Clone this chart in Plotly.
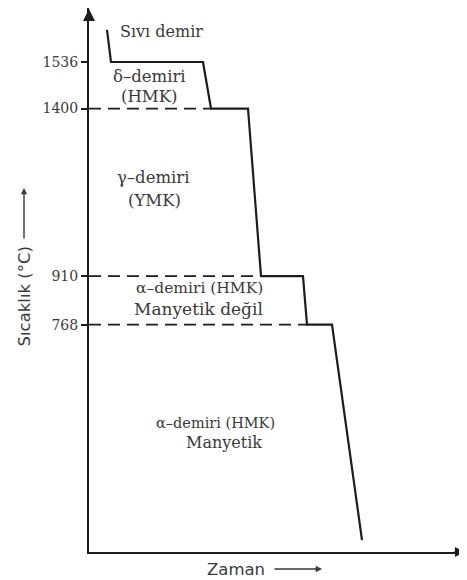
import plotly.graph_objects as go

# ---- data (schematic cooling curve of pure iron) ----
time = [18, 22, 114, 122, 159, 172, 214, 218, 243, 273]
temperature = [1630, 1536, 1536, 1400, 1400, 910, 910, 768, 768, 138]
tick_temps = [1536, 1400, 910, 768]
tick_labels = ["1536", "1400", "910", "768"]
dashed_temps = [1400, 910, 768]
phase_texts = ["Sıvı demir", "δ–demiri", "(HMK)", "γ–demiri", "(YMK)",
               "α–demiri (HMK)", "Manyetik değil", "α–demiri (HMK)", "Manyetik"]

LINE = "#1c1c1c"
TEXT = "#3a3a3a"
SERIF = "DejaVu Serif"
SANS = "DejaVu Sans"

fig = go.Figure()

# dashed transition lines from the axis to the start of each plateau
for T in dashed_temps:
    t_end = time[temperature.index(T)]
    fig.add_trace(go.Scatter(x=[0, t_end], y=[T, T], mode="lines",
                             line=dict(color=LINE, width=1.8, dash="12px,7px"),
                             hoverinfo="skip", showlegend=False))

# cooling curve
fig.add_trace(go.Scatter(x=time, y=temperature, mode="lines",
                         line=dict(color=LINE, width=2.2),
                         showlegend=False))

# phase labels (layout positions)
label_pos = [(72, 1624), (60, 1494), (60, 1436), (64, 1197), (65, 1132),
             (110, 875), (109, 814), (126, 480), (135, 422)]
label_size = [16, 16.5, 16.5, 16.5, 16.5, 15.5, 17, 14.5, 16]
for txt, (lx, ly), sz in zip(phase_texts, label_pos, label_size):
    fig.add_annotation(x=lx, y=ly, text=txt, showarrow=False,
                       font=dict(family=SERIF, size=sz, color=TEXT))

# axis arrowheads
fig.add_annotation(xref="paper", yref="paper", x=0, y=1, ax=0, ay=14,
                   text="", showarrow=True, arrowhead=2, arrowsize=1.2,
                   arrowwidth=2, arrowcolor=LINE)
fig.add_annotation(xref="paper", yref="paper", x=1, y=0, ax=-12, ay=0,
                   text="", showarrow=True, arrowhead=2, arrowsize=1.0,
                   arrowwidth=2, arrowcolor=LINE)

# axis titles with their arrows
fig.add_annotation(xref="paper", yref="paper", x=0, y=0.4697, xshift=-65,
                   xanchor="center", yanchor="middle",
                   text="Sıcaklık (°C)", textangle=-90, showarrow=False,
                   font=dict(family=SANS, size=16.5, color=TEXT))
fig.add_annotation(xref="paper", yref="paper", x=0, y=0.669, xshift=-65,
                   ax=0, ay=52, text="", showarrow=True, arrowhead=2,
                   arrowsize=0.9, arrowwidth=1.4, arrowcolor=TEXT)
fig.add_annotation(xref="paper", yref="paper", x=0.391, y=0, yshift=-17,
                   xanchor="center", yanchor="middle",
                   text="Zaman", showarrow=False,
                   font=dict(family=SANS, size=16.5, color=TEXT))
fig.add_annotation(xref="paper", yref="paper", x=0.6197, y=0, yshift=-17,
                   ax=-49, ay=0, text="", showarrow=True, arrowhead=2,
                   arrowsize=0.9, arrowwidth=1.4, arrowcolor=TEXT)

fig.update_layout(
    width=459, height=572,
    margin=dict(l=81, r=2, t=0, b=28),
    paper_bgcolor="white", plot_bgcolor="white",
    xaxis=dict(range=[0, 376], showline=True, linecolor=LINE, linewidth=2,
               showgrid=False, zeroline=False, showticklabels=False, ticks=""),
    yaxis=dict(range=[103, 1694], showline=True, linecolor=LINE, linewidth=2,
               showgrid=False, zeroline=False, tickmode="array",
               tickvals=tick_temps, ticktext=tick_labels, ticks="outside",
               ticklen=6, tickwidth=1.5, tickcolor=LINE,
               tickfont=dict(family=SERIF, size=14, color=TEXT)),
)

fig.write_html("out.html")
